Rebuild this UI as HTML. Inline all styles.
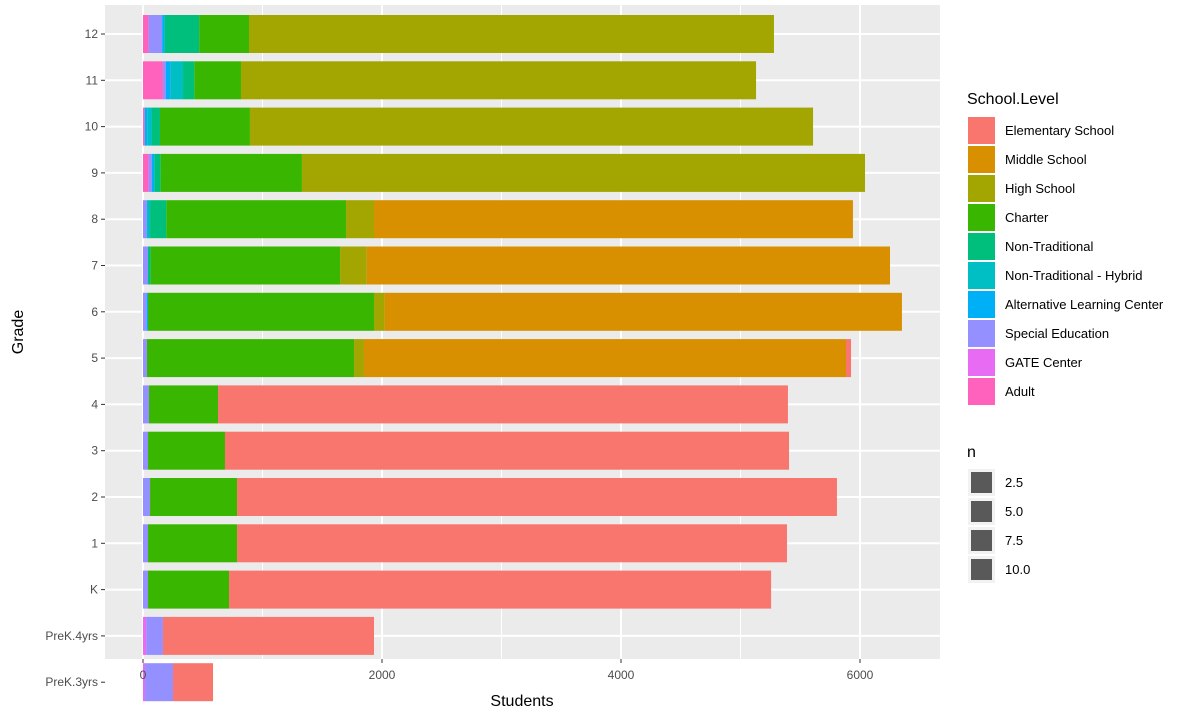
<!DOCTYPE html>
<html><head><meta charset="utf-8"><style>
body{margin:0;background:#fff;font-family:"Liberation Sans",sans-serif}
</style></head><body>
<svg id="chart" width="1200" height="720" xmlns="http://www.w3.org/2000/svg" font-family="Liberation Sans, sans-serif">
<rect x="0" y="0" width="1200" height="720" fill="#fff"/>
<rect x="105" y="5" width="835" height="654" fill="#ebebeb"/>
<g id="grid"></g>
<g id="bars"></g>
<g id="axes"></g>
<text x="522" y="706" font-size="16" text-anchor="middle" fill="#000">Students</text>
<text transform="translate(23,332) rotate(-90)" font-size="16" text-anchor="middle" fill="#000">Grade</text>
<g id="legend"></g>
</svg>
<script>
const grades = ["12","11","10","9","8","7","6","5","4","3","2","1","K","PreK.4yrs","PreK.3yrs"];
const levels = ["Elementary School","Middle School","High School","Charter","Non-Traditional","Non-Traditional - Hybrid","Alternative Learning Center","Special Education","GATE Center","Adult"];
const colors = ["#F8766D","#D89000","#A3A500","#39B600","#00BF7D","#00BFC4","#00B0F6","#9590FF","#E76BF3","#FF62BC"];
// values per grade, ordered by levels
const elementary = [0,0,0,0,0,0,0,42,4769,4720,5020,4602,4536,1766,335];
const middle     = [0,0,0,0,4008,4379,4329,4034,0,0,0,0,0,0,0];
const high       = [4393,4310,4712,4712,234,223,89,83,0,0,0,0,0,0,0];
const charter    = [417,391,753,1182,1504,1585,1891,1733,578,644,728,745,678,0,0];
const nonTrad    = [289,94,67,53,136,22,0,0,0,0,0,0,0,0,0];
const ntHybrid   = [0,103,39,0,26,0,0,0,0,0,0,0,0,0,0];
const alc        = [21,40,22,20,0,0,11,0,0,0,0,0,0,0,0];
const specialEd  = [113,25,0,28,33,42,31,33,50,42,59,42,42,139,234];
const gate       = [0,0,0,0,0,0,0,0,0,0,0,0,0,28,17];
const adult      = [47,167,14,47,0,0,0,0,0,0,0,0,0,0,0];
const xTicks = [0,2000,4000,6000];
const nLabels = ["2.5","5.0","7.5","10.0"];

const series = [elementary,middle,high,charter,nonTrad,ntHybrid,alc,specialEd,gate,adult];
const NS="http://www.w3.org/2000/svg";
const x = v => 143 + v*0.11950;
const yc = i => 34 + i*46.3;
const bh = 38;
function mk(tag, attrs, parent){const e=document.createElementNS(NS,tag);for(const k in attrs)e.setAttribute(k,attrs[k]);parent.appendChild(e);return e;}
const grid=document.getElementById('grid'), bars=document.getElementById('bars'), axes=document.getElementById('axes'), leg=document.getElementById('legend');
// grid
[1000,3000,5000].forEach(v=>{const l=mk('line',{x1:x(v),x2:x(v),y1:5,y2:659,stroke:'#fff','stroke-width':1},grid);

});
xTicks.forEach(v=>{const l=mk('line',{x1:x(v),x2:x(v),y1:5,y2:659,stroke:'#fff','stroke-width':2},grid);

});
grades.forEach((g,i)=>{const l=mk('line',{x1:105,x2:940,y1:yc(i),y2:yc(i),stroke:'#fff','stroke-width':2},grid);

});
// bars: stack from Adult (left) to Elementary (right)
grades.forEach((g,i)=>{
  let cum=0;
  for(let s=levels.length-1;s>=0;s--){
    const v=series[s][i]; if(!v) continue;
    const r=mk('rect',{x:x(cum),y:yc(i)-bh/2,width:x(cum+v)-x(cum),height:bh,fill:colors[s]},bars);
    
    
    cum+=v;
  }
});
// axes
xTicks.forEach(v=>{
  const t=mk('line',{x1:x(v),x2:x(v),y1:659,y2:663,stroke:'#333','stroke-width':1},axes);
  
  
  const tx=mk('text',{x:x(v),y:679,'font-size':12,'text-anchor':'middle',fill:'#4d4d4d'},axes);
  tx.textContent=v;
  
  
});
grades.forEach((g,i)=>{
  const t=mk('line',{x1:101,x2:105,y1:yc(i),y2:yc(i),stroke:'#333','stroke-width':1},axes);
  
  
  const tx=mk('text',{x:98,y:yc(i)+4,'font-size':12,'text-anchor':'end',fill:'#4d4d4d'},axes);
  tx.textContent=g;
  
  
});
// legend
const lt=mk('text',{x:967,y:104,'font-size':16,fill:'#000'},leg);
lt.textContent='School.Level';


levels.forEach((L,k)=>{
  const y0=117+k*29;
  const r=mk('rect',{x:968,y:y0,width:27,height:27,fill:colors[k]},leg);
  
  
  const t=mk('text',{x:1005,y:y0+18,'font-size':13,fill:'#000'},leg);
  t.textContent=L;
  
  
});
const nt=mk('text',{x:967,y:457,'font-size':16,fill:'#000'},leg);
nt.textContent='n';


nLabels.forEach((L,k)=>{
  const y0=469+k*29;
  const b=mk('rect',{x:968,y:y0,width:27,height:27,fill:'#f2f2f2'},leg);
  
  
  const r=mk('rect',{x:971,y:y0+3,width:21,height:21,fill:'#595959'},leg);
  
  
  const t=mk('text',{x:1005,y:y0+18,'font-size':13,fill:'#000'},leg);
  t.textContent=L;
  
  
});
</script>
</body></html>
